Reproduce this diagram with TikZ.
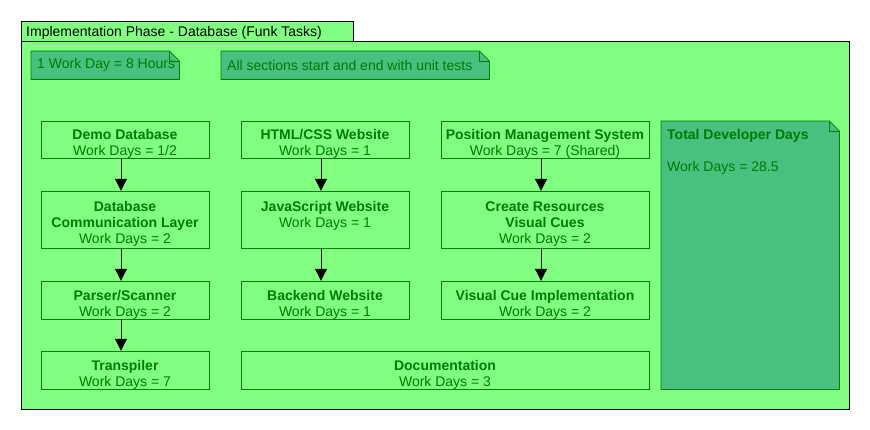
\documentclass[tikz,border=0pt]{standalone}
\usepackage{fontspec}
\setmainfont{Liberation Sans}
\usetikzlibrary{arrows.meta}

\definecolor{phasegreen}{HTML}{80FF80}
\definecolor{taskline}{HTML}{008000}
\definecolor{tasktext}{HTML}{007A00}
\definecolor{notegreen}{HTML}{48C080}

\tikzset{
  task/.style={draw=taskline,fill=phasegreen,text=tasktext,align=center,inner sep=0pt,
    text depth=0pt,minimum width=168pt,minimum height=38pt,font=\fontsize{14}{16}\selectfont},
  flow/.style={-{Triangle[width=12pt,length=12pt]},black,line width=1pt},
  notebox/.style={inner sep=0pt,anchor=north west},
  notetext/.style={inner sep=0pt,anchor=west,text=tasktext,font=\fontsize{14}{16}\selectfont},
  notefold/.style={draw=taskline,fill=notegreen,line width=0.8pt},
}

\begin{document}
\begin{tikzpicture}[x=1pt,y=-1pt]
  \useasboundingbox (0,0) rectangle (870,430);

  % phase frame and its tab
  \node[draw=black,fill=phasegreen,line width=0.8pt,anchor=north west,inner sep=0pt,
    minimum width=828pt,minimum height=368pt] (phase) at (21,41) {};
  \node[draw=black,fill=phasegreen,line width=0.8pt,anchor=north west,inner sep=0pt,
    minimum width=332pt,minimum height=20pt] (tab) at (21,21) {};
  \node[anchor=west,inner sep=0pt,font=\fontsize{14}{16}\selectfont] (tabtext)
    at ([xshift=5pt,yshift=-1pt]tab.west) {Implementation Phase - Database (Funk Tasks)};

  % notes
  \node[notebox,minimum width=148pt,minimum height=28pt] (hours) at (31,51) {};
  \node[notebox,minimum width=268pt,minimum height=28pt] (tests) at (221,51) {};
  \node[notebox,minimum width=178pt,minimum height=268pt] (total) at (661,121) {};
  \foreach \n in {hours,tests,total} {
    \filldraw[notefold] (\n.north west) -- ([xshift=-10pt]\n.north east)
      -- ([yshift=-10pt]\n.north east) -- (\n.south east) -- (\n.south west) -- cycle;
    \draw[notefold,fill=none] ([xshift=-10pt]\n.north east) |- ([yshift=-10pt]\n.north east);
  }
  \node[notetext] (hourstext) at ([xshift=6pt]hours.west) {1 Work Day = 8 Hours};
  \node[notetext] (teststext) at ([xshift=6pt]tests.west) {All sections start and end with unit tests};
  \node[notetext,font=\fontsize{14}{16}\selectfont\bfseries] (totaltitle)
    at ([shift={(6pt,-15pt)}]total.north west) {Total Developer Days};
  \node[notetext] (totaldays) at ([shift={(6pt,-47pt)}]total.north west) {Work Days = 28.5};

  % tasks
  \node[task,minimum height=37pt] (demo) at (125,139.5) {\rule{0pt}{17pt}\textbf{Demo Database}\\Work Days = 1/2};
  \node[task,minimum height=57pt] (dbcomm) at (125,219.5) {\rule{0pt}{17pt}\textbf{Database}\\\textbf{Communication Layer}\\Work Days = 2};
  \node[task] (parser) at (125,300) {\rule{0pt}{17pt}\textbf{Parser/Scanner}\\Work Days = 2};
  \node[task] (transpiler) at (125,370) {\rule{0pt}{17pt}\textbf{Transpiler}\\Work Days = 7};

  \node[task,minimum height=37pt] (html) at (325,139.5) {\rule{0pt}{17pt}\textbf{HTML/CSS Website}\\Work Days = 1};
  \node[task,minimum height=57pt] (js) at (325,219.5) {\rule{0pt}{17pt}\textbf{JavaScript Website}\\Work Days = 1\\\strut};
  \node[task] (backend) at (325,300) {\rule{0pt}{17pt}\textbf{Backend Website}\\Work Days = 1};

  \node[task,minimum width=208pt,minimum height=37pt] (pms) at (545,139.5) {\rule{0pt}{17pt}\textbf{Position Management System}\\Work Days = 7 (Shared)};
  \node[task,minimum width=208pt,minimum height=57pt] (cues) at (545,219.5) {\rule{0pt}{17pt}\textbf{Create Resources}\\\textbf{Visual Cues}\\Work Days = 2};
  \node[task,minimum width=208pt] (cueimpl) at (545,300) {\rule{0pt}{17pt}\textbf{Visual Cue Implementation}\\Work Days = 2};

  \node[task,minimum width=408pt] (docs) at (445,370) {\rule{0pt}{17pt}\textbf{Documentation}\\Work Days = 3};

  % flows
  \foreach \a/\b in {demo/dbcomm,dbcomm/parser,parser/transpiler,html/js,js/backend,pms/cues,cues/cueimpl}
    \draw[flow] ([xshift=-4pt]\a.south) -- ([xshift=-4pt]\b.north);
\end{tikzpicture}
\end{document}
